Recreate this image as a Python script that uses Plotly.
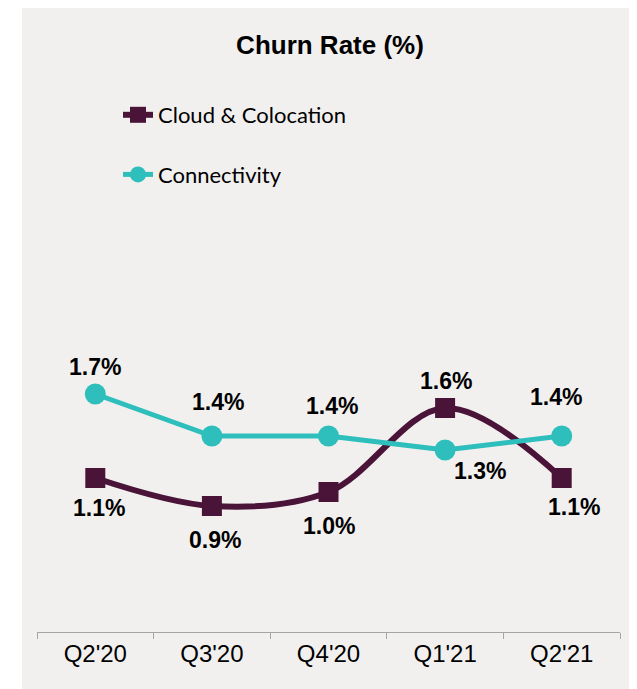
import plotly.graph_objects as go

quarters = ["Q2'20", "Q3'20", "Q4'20", "Q1'21", "Q2'21"]
cloud = [1.1, 0.9, 1.0, 1.6, 1.1]
connectivity = [1.7, 1.4, 1.4, 1.3, 1.4]

PURPLE = "#4A1439"
TEAL = "#2EBFBC"
BG = "#F2F0EF"

W, H = 629, 681
L, R, T, B = 29, 17, 4, 57
PW, PH = W - L - R, H - T - B  # 583 x 620

fig = go.Figure()
fig.add_trace(go.Scatter(
    x=quarters, y=cloud, name="Cloud & Colocation", mode="lines+markers",
    line=dict(color=PURPLE, width=6, shape="spline", smoothing=1.0),
    marker=dict(symbol="square", size=20, color=PURPLE),
    legendgroup="a"))
fig.add_trace(go.Scatter(
    x=quarters, y=connectivity, name="Connectivity", mode="lines+markers",
    line=dict(color=TEAL, width=5),
    marker=dict(symbol="circle", size=21, color=TEAL),
    legendgroup="b"))

# label offsets (pixels) per point
cloud_off = [(4, -30), (3, -34), (0, -34), (1, 27), (12, -29)]
conn_off = [(0, 27), (6, 34), (3, 30), (35, -21), (-6, 39)]

for series, offs in ((cloud, cloud_off), (connectivity, conn_off)):
    for q, v, (dx, dy) in zip(quarters, series, offs):
        fig.add_annotation(x=q, y=v, text=f"{v:.1f}%", showarrow=False,
                           xshift=dx, yshift=dy,
                           font=dict(family="Liberation Sans", size=23, color="#000000", weight="bold"))

fig.add_shape(type="rect", xref="paper", yref="paper",
              x0=(14 - L) / PW, x1=(627 - L) / PW,
              y0=-(B + 5) / PH, y1=1 + T / PH,
              fillcolor=BG, line=dict(width=0), layer="below")

fig.update_layout(
    width=W, height=H,
    margin=dict(l=L, r=R, t=T, b=B),
    paper_bgcolor="white", plot_bgcolor="rgba(0,0,0,0)",
    title=dict(text="<b>Churn Rate (%)</b>", x=322 / W, xanchor="center",
               y=1 - 37 / H, yanchor="middle",
               font=dict(family="Liberation Sans", size=26, color="#000000")),
    showlegend=True,
    legend=dict(x=(110 - L) / PW, y=1 - (86 - T) / PH, xanchor="left", yanchor="top",
                bgcolor="rgba(0,0,0,0)", traceorder="grouped", tracegroupgap=28,
                font=dict(family="Lato", size=22, color="#000000"),
                itemwidth=30),
    xaxis=dict(type="category", showgrid=False, zeroline=False,
               showline=True, linecolor="#A6A6A6", linewidth=1,
               ticks="outside", ticklen=6, tickcolor="#A6A6A6",
               tickson="boundaries",
               tickfont=dict(family="Liberation Sans", size=24, color="#000000"),
               range=[-0.5, 4.5]),
    yaxis=dict(range=[0, PH / 140], visible=False, showgrid=False, zeroline=False),
)

fig.write_html("out.html")
